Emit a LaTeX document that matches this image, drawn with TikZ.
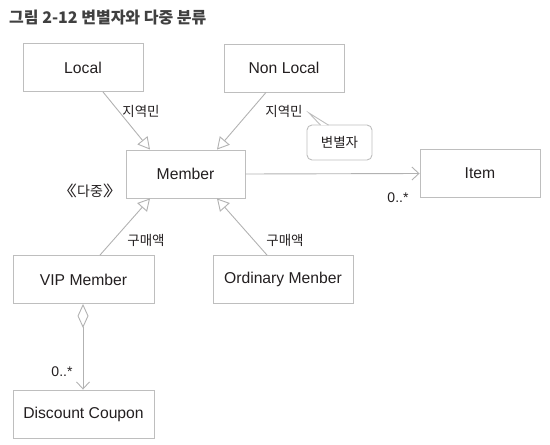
\documentclass[tikz,border=0pt]{standalone}
\usepackage{fontspec}
\setmainfont{Liberation Sans}
\newfontfamily\kr{Noto Sans CJK KR}
\usetikzlibrary{arrows.meta}
\definecolor{boxgray}{RGB}{190,190,190}
\definecolor{linegray}{RGB}{178,178,178}
\definecolor{txt}{RGB}{35,31,32}
\definecolor{titlegray}{RGB}{64,64,64}
\newcommand{\wbr}[1]{\scalebox{1.5}[1.05]{#1}}
\begin{document}
\begin{tikzpicture}[x=1pt,y=-1pt,
  cls/.style={draw=boxgray, line width=0.9pt, minimum width=120pt, minimum height=48pt,
    inner sep=0pt, font=\fontsize{15.7}{15.7}\selectfont, text=txt},
  widecls/.style={cls, minimum width=141pt},
  lbl/.style={font=\kr\fontsize{13.5}{13.5}\selectfont, text=txt, inner sep=0pt},
  mult/.style={font=\fontsize{14}{14}\selectfont, text=txt, inner sep=0pt},
  gen/.style={draw=linegray, line width=0.9pt, -{Triangle[open, length=12pt, width=13pt, fill=white]}},
  nav/.style={draw=linegray, line width=0.9pt, -{Straight Barb[length=7pt, width=13pt]}},
  agg/.style={draw=linegray, line width=0.9pt, {Diamond[open, length=24pt, width=11pt, fill=white]}-{Straight Barb[length=7pt, width=13pt]}},
  note/.style={draw=boxgray, line width=0.9pt, rounded corners=5pt, minimum width=65pt,
    minimum height=35pt, inner sep=0pt, fill=white, font=\kr\fontsize{13.5}{13.5}\selectfont, text=txt}
]
\useasboundingbox (0,0) rectangle (550,445);

\node[anchor=west, inner sep=0pt, text=titlegray, font=\kr\bfseries\fontsize{16}{16}\selectfont] (title) at (9,18) {그림 2-12 변별자와 다중 분류};

\node[cls] (local) at (83,67.5) {Local};
\node[cls] (nonlocal) at (284,68) {Non Local};
\node[cls, minimum width=119pt] (member) at (185.5,174) {Member};
\node[cls] (item) at (480,173.5) {Item};
\node[widecls] (vip) at (83.5,279.5) {VIP Member};
\node[widecls, minimum width=140pt] (ordinary) at (283,279.5) {Ordinary Menber};
\node[widecls] (coupon) at (83.5,414) {Discount Coupon};

\draw[gen] ([xshift=20pt]local.south) -- ([xshift=-35.5pt]member.north);
\draw[gen] ([xshift=-18pt]nonlocal.south) -- ([xshift=31.5pt]member.north);
\draw[gen] ([xshift=16.5pt]vip.north) -- ([xshift=-35.5pt]member.south);
\draw[gen] ([xshift=-16pt]ordinary.north) -- ([xshift=31.5pt]member.south);
\draw[nav] (member.east) -- (item.west);
\draw[agg] ([xshift=-0.5pt]vip.south) -- ([xshift=-0.5pt]coupon.north);

\node[lbl] (l1) at (141,111) {지역민};
\node[lbl] (l2) at (284,111) {지역민};
\node[lbl] (l3) at (146,240) {구매액};
\node[lbl] (l4) at (285,240) {구매액};
\node[lbl, font=\kr\fontsize{14}{14}\selectfont] (multi) at (90,190.5) {\wbr{《}다중\wbr{》}};
\node[mult] (m1) at (398,198) {0..*};
\node[mult] (m2) at (62,372) {0..*};

\node[note] (disc) at (339.5,142.5) {변별자};
\coordinate (tip) at (309,113);
\filldraw[draw=boxgray, fill=white, line width=0.9pt, line join=miter]
  ([xshift=14pt, yshift=-0.6pt]disc.north west) -- (tip) -- ([xshift=22pt, yshift=-0.6pt]disc.north west);
\end{tikzpicture}
\end{document}
